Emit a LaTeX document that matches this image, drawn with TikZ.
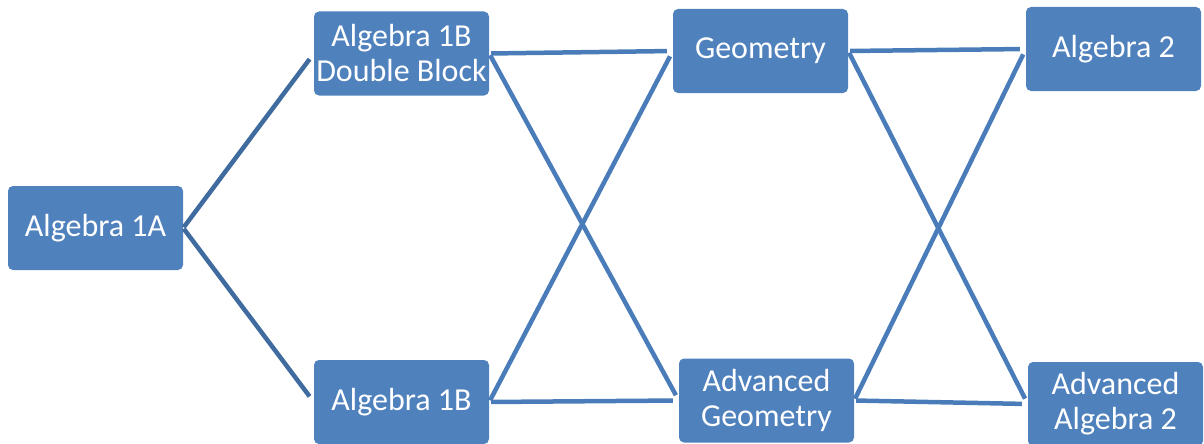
\documentclass[tikz,border=0pt]{standalone}
\usepackage{fontspec}
\setmainfont{Carlito}
\definecolor{boxblue}{HTML}{4F81BD}
\definecolor{linkblue}{HTML}{4A7CB9}
\definecolor{darklink}{HTML}{3F6B9F}

\begin{document}
\begin{tikzpicture}[x=1pt,y=-1pt]
  \tikzset{course/.style={draw=none,fill=boxblue,text=white,rounded corners=5pt,
      minimum width=175pt,minimum height=84pt,inner sep=2pt,align=center,
      font=\fontsize{32}{35}\selectfont},
    link/.style={draw=linkblue,line width=4.5pt,shorten <=2pt,shorten >=6pt},
    firstlink/.style={link,draw=darklink,shorten <=1pt,shorten >=7pt}}
  \useasboundingbox (0,0) rectangle (1204,444);
  \node[course] (alga) at (95.5,228) {Algebra 1A};
  \node[course] (algbdb) at (401.5,53.5) {Algebra 1B\\Double Block};
  \node[course] (algb) at (401.5,402) {Algebra 1B};
  \node[course] (geom) at (760.5,51) {Geometry};
  \node[course] (advgeom) at (766.5,400.5) {Advanced\\Geometry};
  \node[course] (algtwo) at (1113.5,49) {Algebra 2};
  \node[course] (advalgtwo) at (1115.5,404) {Advanced\\Algebra 2};
  \draw[firstlink] (alga.east) -- (algbdb.west);
  \draw[firstlink] (alga.east) -- (algb.west);
  \foreach \from in {algbdb,algb}
    \foreach \to in {geom,advgeom}
      \draw[link] (\from.east) -- (\to.west);
  \foreach \from in {geom,advgeom}
    \foreach \to in {algtwo,advalgtwo}
      \draw[link] (\from.east) -- (\to.west);
\end{tikzpicture}
\end{document}
